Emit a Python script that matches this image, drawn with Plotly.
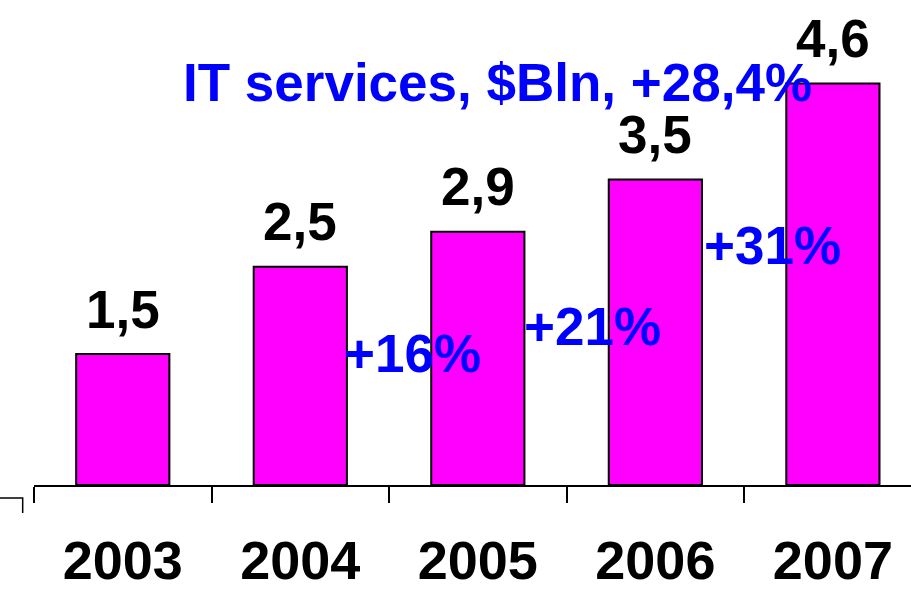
import plotly.graph_objects as go

# data
years = ['2003', '2004', '2005', '2006', '2007']
values = [1.5, 2.5, 2.9, 3.5, 4.6]
value_labels = ['1,5', '2,5', '2,9', '3,5', '4,6']
growth_labels = ['+16%', '+21%', '+31%']
title_text = 'IT services, $Bln, +28,4%'

FONT = 'Liberation Sans, Arial, sans-serif'
BLUE = '#0000FF'
MAGENTA = '#FF00FF'

fig = go.Figure()
fig.add_trace(go.Bar(x=years, y=values, width=0.525,
                     marker=dict(color=MAGENTA, line=dict(color='black', width=2)),
                     showlegend=False, hoverinfo='skip'))

# value labels above bars (x by category index)
for i, (v, lab) in enumerate(zip(values, value_labels)):
    fig.add_annotation(x=i, y=v, text=lab, showarrow=False, xref='x', yref='y',
                       xanchor='center', yanchor='middle', yshift=45,
                       font=dict(family=FONT, size=53, color='black', weight='bold'))

# growth labels between bars (x placed just after category boundary)
growth_pos = [(1.63, 1.51), (2.644, 1.82), (3.658, 2.74)]
for lab, (gx, gy) in zip(growth_labels, growth_pos):
    fig.add_annotation(x=gx, y=gy, text=lab, showarrow=False, xref='x', yref='y',
                       xanchor='center', yanchor='middle',
                       font=dict(family=FONT, size=53, color=BLUE, weight='bold'))

fig.add_annotation(x=0.5285, y=0.83, xref='paper', yref='paper', text=title_text,
                   xanchor='center', yanchor='middle', showarrow=False,
                   font=dict(family=FONT, size=53, color=BLUE, weight='bold'))

# small stray axis stub at bottom-left
fig.add_shape(type='path', xref='paper', yref='paper',
              path='M -0.0388,-0.0268 L -0.0129,-0.0268 L -0.0129,-0.0577',
              line=dict(color='black', width=1.5))

fig.update_layout(width=911, height=589, autosize=False,
                  margin=dict(l=34, r=0, t=0, b=104),
                  plot_bgcolor='white', paper_bgcolor='white',
                  bargap=0.475)
fig.update_xaxes(type='category', range=[-0.5, 4.44], showline=True, linecolor='black',
                 linewidth=1.5, ticks='outside', tickson='boundaries', ticklen=16,
                 tickcolor='black', tickwidth=1.5, showgrid=False,
                 ticklabelstandoff=27,
                 tickfont=dict(family=FONT, size=54, color='black', weight='bold'))
fig.update_yaxes(range=[0, 5.556], visible=False, showgrid=False)

fig.write_html('out.html', config={'displayModeBar': False},
               post_script="document.body.style.margin='0';document.body.style.overflow='hidden';")
